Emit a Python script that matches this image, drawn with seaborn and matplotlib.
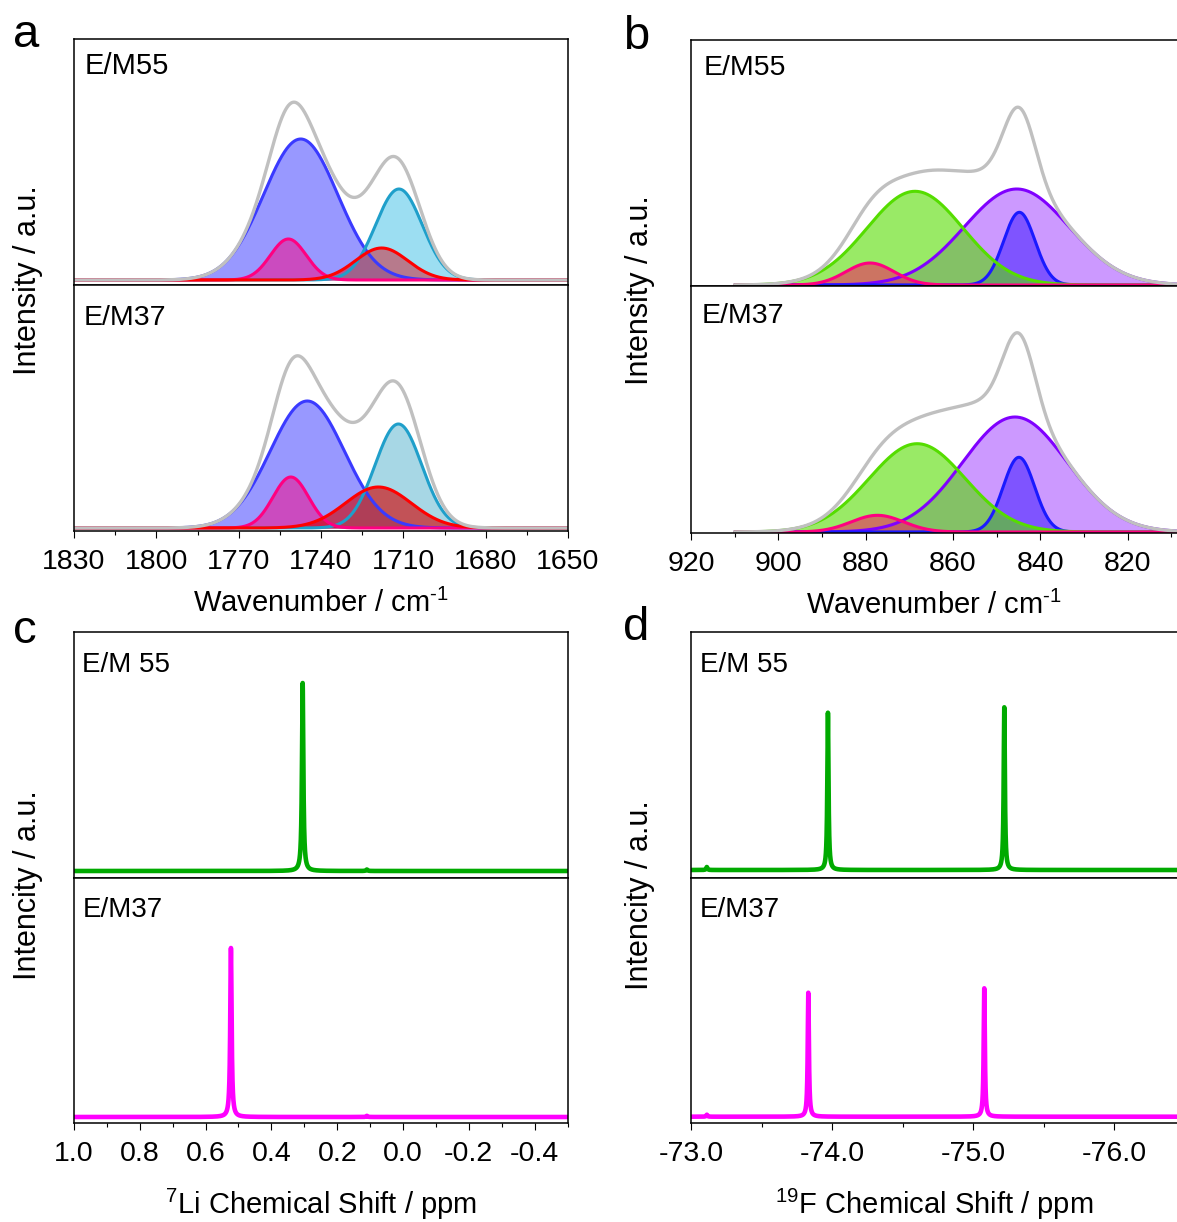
import numpy as np
import matplotlib
matplotlib.use("Agg")
import matplotlib.pyplot as plt
import seaborn as sns
from matplotlib.ticker import MultipleLocator, FormatStrFormatter

sns.set_theme(style="ticks")
plt.rcParams['font.family'] = ['Liberation Sans', 'DejaVu Sans']
plt.rcParams['mathtext.fontset'] = 'custom'
plt.rcParams['mathtext.rm'] = 'Liberation Sans'
plt.rcParams['mathtext.it'] = 'Liberation Sans:italic'
plt.rcParams['axes.unicode_minus'] = False
for key in ('text.color', 'axes.labelcolor', 'xtick.color', 'ytick.color', 'axes.edgecolor'):
    plt.rcParams[key] = 'black'

# ---------------- data ----------------
# (a) C=O stretching region, Gaussian components: centre (cm-1), height (a.u.), sigma (cm-1)
# component order: free carbonyl, Li+-coordinated carbonyl, shoulder, low-frequency band
co_center_55 = [1747.4, 1711.6, 1751.9, 1717.9]
co_height_55 = [1.41, 0.91, 0.41, 0.32]
co_sigma_55 = [13.5, 8.5, 6.5, 9.5]
co_center_37 = [1745.0, 1711.8, 1751.0, 1719.1]
co_height_37 = [1.27, 1.04, 0.51, 0.41]
co_sigma_37 = [13.5, 8.5, 6.5, 12.0]

# (b) P-F stretching region, Gaussian components
# component order: broad band, sharp band, high-frequency band, weak band
pf_center_55 = [845.4, 844.8, 868.7, 879.0]
pf_height_55 = [0.96, 0.727, 0.937, 0.22]
pf_sigma_55 = [12.0, 3.6, 11.0, 5.5]
pf_center_37 = [845.8, 844.9, 868.2, 877.3]
pf_height_37 = [1.15, 0.747, 0.883, 0.167]
pf_sigma_37 = [12.0, 3.6, 11.0, 6.0]

# (c) 7Li NMR: Lorentzian lines, centre (ppm), height (a.u.)
li_center_55 = [0.305, 0.11]
li_height_55 = [1.88, 0.015]
li_center_37 = [0.523, 0.11]
li_height_37 = [1.69, 0.012]
li_hwhm = 0.0025

# (d) 19F NMR: Lorentzian lines
f_center_55 = [-73.969, -75.22, -73.11]
f_height_55 = [1.573, 1.627, 0.03]
f_center_37 = [-73.83, -75.078, -73.11]
f_height_37 = [1.24, 1.284, 0.02]
f_hwhm = 0.005

# ---------------- styles ----------------
co_line = ["#3a3aff", "#1f9fca", "#ff0080", "#ff0000"]
co_fill_55 = [("#3333ff", 0.5), ("#5bc8ea", 0.6), ("#ff0080", 0.5), ("#d80010", 0.45)]
co_fill_37 = [("#3333ff", 0.5), ("#51b1cd", 0.5), ("#ff0080", 0.5), ("#d40000", 0.62)]
pf_line = ["#8000ff", "#1a1aff", "#55dd00", "#ff0080"]
pf_fill = [("#8000ff", 0.4), ("#2200ff", 0.45), ("#55dd00", 0.6), ("#ff0060", 0.5)]
env_color = "#c0c0c0"

W, H = 1177, 1222
fig = plt.figure(figsize=(W / 100, H / 100), dpi=100)


def add_ax(left, top, right, bottom):
    return fig.add_axes([left / W, 1 - bottom / H, (right - left) / W, (bottom - top) / H])


def gauss(x, c, h, s):
    return h * np.exp(-0.5 * ((x - c) / s) ** 2)


def lorentz(x, c, h, g):
    return h * g ** 2 / ((x - c) ** 2 + g ** 2)


def style_ax(ax, show_x):
    for sp in ax.spines.values():
        sp.set_linewidth(1.1)
        sp.set_color("black")
    ax.set_yticks([])
    ax.tick_params(axis="x", which="major", length=5, width=0.8, direction="out",
                   labelsize=20.5, pad=8, colors="black")
    ax.tick_params(axis="x", which="minor", length=3, width=0.8, direction="out")
    if not show_x:
        ax.tick_params(axis="x", which="both", bottom=False, labelbottom=False)


def fitted_panel(ax, x, centers, heights, sigmas, lines, fills, order):
    comps = [gauss(x, c, h, s) for c, h, s in zip(centers, heights, sigmas)]
    for i in order:
        col, a = fills[i]
        ax.fill_between(x, 0, comps[i], color=col, alpha=a, lw=0)
        sns.lineplot(x=x, y=comps[i], ax=ax, color=lines[i], lw=2.2,
                     estimator=None, sort=False)
    sns.lineplot(x=x, y=np.sum(comps, axis=0), ax=ax, color=env_color, lw=2.4,
                 estimator=None, sort=False)


wavenumber_label = r"Wavenumber / cm$^{\text{-1}}$"

# ---------- panel a ----------
x_co = np.linspace(1830, 1650, 1500)
a1 = add_ax(74, 39.5, 568, 285)
a2 = add_ax(74, 285, 568, 531)
fitted_panel(a1, x_co, co_center_55, co_height_55, co_sigma_55, co_line, co_fill_55, [0, 1, 2, 3])
fitted_panel(a2, x_co, co_center_37, co_height_37, co_sigma_37, co_line, co_fill_37, [0, 1, 2, 3])
a1.set_ylim(-0.05, 2.405)
a2.set_ylim(-0.03, 2.43)
for ax, show in ((a1, False), (a2, True)):
    ax.set_xlim(1830, 1650)
    ax.xaxis.set_major_locator(MultipleLocator(30))
    ax.xaxis.set_minor_locator(MultipleLocator(15))
    ax.xaxis.set_major_formatter(FormatStrFormatter("%d"))
    style_ax(ax, show)
a2.set_xlabel(wavenumber_label, fontsize=21, labelpad=10)
a1.text(0.022, 0.951, "E/M55", transform=a1.transAxes, fontsize=21, ha="left", va="top")
a2.text(0.020, 0.919, "E/M37", transform=a2.transAxes, fontsize=20.5, ha="left", va="top")

# ---------- panel b ----------
x_pf = np.linspace(910, 805, 1500)
b1 = add_ax(691, 39.5, 1177, 285.5)
b2 = add_ax(691, 285.5, 1177, 533)
fitted_panel(b1, x_pf, pf_center_55, pf_height_55, pf_sigma_55, pf_line, pf_fill, [0, 1, 2, 3])
fitted_panel(b2, x_pf, pf_center_37, pf_height_37, pf_sigma_37, pf_line, pf_fill, [0, 1, 2, 3])
b1.set_ylim(-0.005, 2.455)
b2.set_ylim(-0.01, 2.465)
for ax, show in ((b1, False), (b2, True)):
    ax.set_xlim(920, 808.7)
    ax.xaxis.set_major_locator(MultipleLocator(20))
    ax.xaxis.set_minor_locator(MultipleLocator(10))
    ax.xaxis.set_major_formatter(FormatStrFormatter("%d"))
    style_ax(ax, show)
    ax.spines["right"].set_visible(False)
b2.set_xlabel(wavenumber_label, fontsize=21, labelpad=10)
b1.text(0.027, 0.937, "E/M55", transform=b1.transAxes, fontsize=20.5, ha="left", va="top")
b2.text(0.022, 0.931, "E/M37", transform=b2.transAxes, fontsize=20.5, ha="left", va="top")

# ---------- panel c ----------
x_li = np.linspace(1.0, -0.5, 20000)
c1 = add_ax(74, 631.5, 567.5, 877.5)
c2 = add_ax(74, 877.5, 567.5, 1123)
y_li55 = np.sum([lorentz(x_li, c, h, li_hwhm) for c, h in zip(li_center_55, li_height_55)], axis=0)
y_li37 = np.sum([lorentz(x_li, c, h, li_hwhm) for c, h in zip(li_center_37, li_height_37)], axis=0)
sns.lineplot(x=x_li, y=y_li55, ax=c1, color="#00aa00", lw=3.3, estimator=None, sort=False)
sns.lineplot(x=x_li, y=y_li37, ax=c2, color="#ff00ff", lw=3.3, estimator=None, sort=False)
c1.set_ylim(-0.065, 2.395)
c2.set_ylim(-0.06, 2.395)
for ax, show in ((c1, False), (c2, True)):
    ax.set_xlim(1.0, -0.5)
    ax.xaxis.set_major_locator(MultipleLocator(0.2))
    ax.xaxis.set_minor_locator(MultipleLocator(0.1))
    ax.xaxis.set_major_formatter(FormatStrFormatter("%.1f"))
    style_ax(ax, show)
c2.set_xlabel("$^{7}$Li Chemical Shift / ppm", fontsize=21, labelpad=14)
c1.text(0.017, 0.918, "E/M 55", transform=c1.transAxes, fontsize=20, ha="left", va="top")
c2.text(0.017, 0.919, "E/M37", transform=c2.transAxes, fontsize=20, ha="left", va="top")

# ---------- panel d ----------
x_f = np.linspace(-73.0, -76.5, 20000)
d1 = add_ax(691.3, 631.5, 1177, 877.5)
d2 = add_ax(691.3, 877.5, 1177, 1123)
y_f55 = np.sum([lorentz(x_f, c, h, f_hwhm) for c, h in zip(f_center_55, f_height_55)], axis=0)
y_f37 = np.sum([lorentz(x_f, c, h, f_hwhm) for c, h in zip(f_center_37, f_height_37)], axis=0)
sns.lineplot(x=x_f, y=y_f55, ax=d1, color="#00aa00", lw=3.3, estimator=None, sort=False)
sns.lineplot(x=x_f, y=y_f37, ax=d2, color="#ff00ff", lw=3.3, estimator=None, sort=False)
d1.set_ylim(-0.075, 2.385)
d2.set_ylim(-0.063, 2.392)
for ax, show in ((d1, False), (d2, True)):
    ax.set_xlim(-73.0, -76.445)
    ax.xaxis.set_major_locator(MultipleLocator(1.0))
    ax.xaxis.set_minor_locator(MultipleLocator(0.5))
    ax.xaxis.set_major_formatter(FormatStrFormatter("%.1f"))
    style_ax(ax, show)
    ax.spines["right"].set_visible(False)
d2.set_xlabel("$^{19}$F Chemical Shift / ppm", fontsize=21, labelpad=14)
d1.text(0.018, 0.918, "E/M 55", transform=d1.transAxes, fontsize=20, ha="left", va="top")
d2.text(0.018, 0.919, "E/M37", transform=d2.transAxes, fontsize=20, ha="left", va="top")

for ax in (a1, a2, b1, b2, c1, c2, d1, d2):
    ax.set_ylabel("")

# shared y labels and panel letters
for xp, yp, txt in ((28, 280, "Intensity / a.u."), (640, 290, "Intensity / a.u."),
                    (28, 885, "Intencity / a.u."), (640, 895, "Intencity / a.u.")):
    fig.text(xp / W, 1 - yp / H, txt, rotation=90, fontsize=22, ha="center", va="center")
for xp, yp, txt in ((26.5, 46.7, "a"), (636, 49, "b"), (25, 643, "c"), (636, 640, "d")):
    fig.text(xp / W, 1 - yp / H, txt, fontsize=34, ha="center", va="baseline")

fig.savefig("out.png", dpi=100)
